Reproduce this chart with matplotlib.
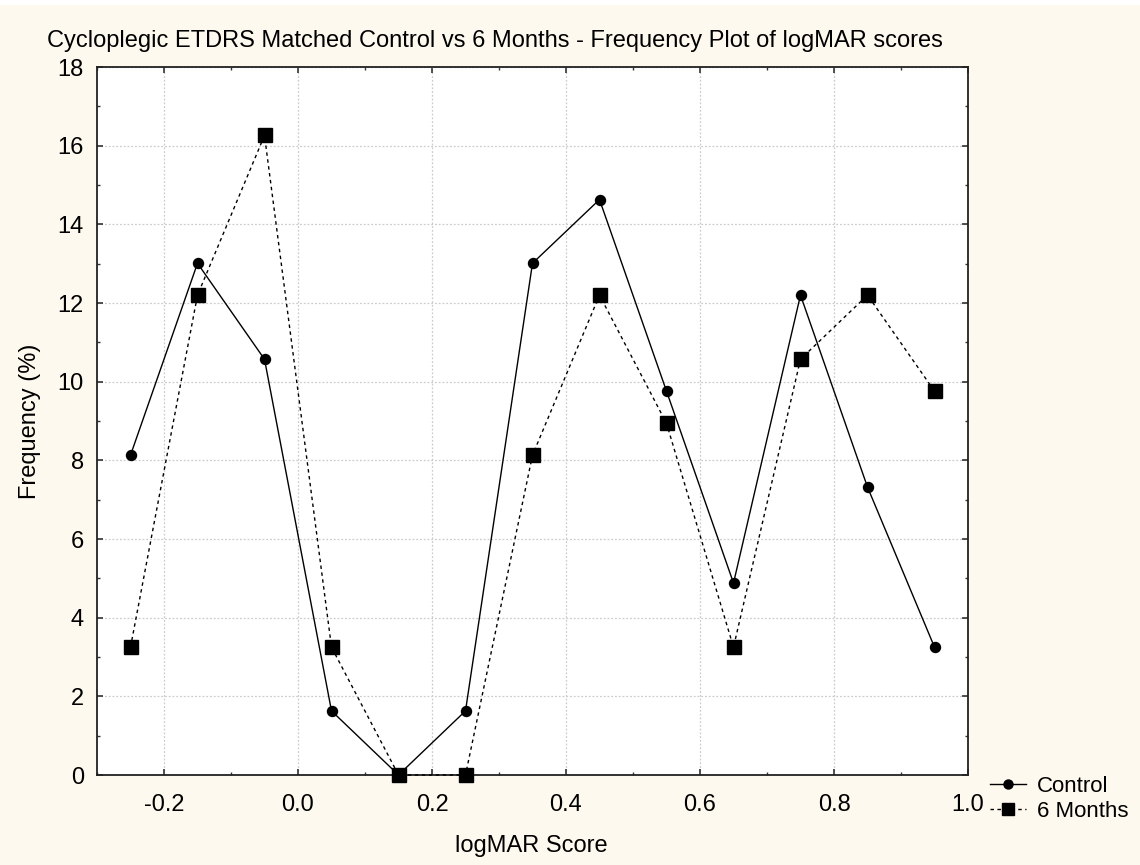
import matplotlib
matplotlib.use("Agg")
import matplotlib.pyplot as plt
from matplotlib.ticker import MultipleLocator
from matplotlib.patches import Rectangle

x_scores = [-0.25, -0.15, -0.05, 0.05, 0.15, 0.25, 0.35, 0.45, 0.55, 0.65, 0.75, 0.85, 0.95]
control = [8.13, 13.01, 10.57, 1.63, 0.0, 1.63, 13.01, 14.63, 9.76, 4.88, 12.20, 7.32, 3.25]
months6 = [3.25, 12.20, 16.26, 3.25, 0.0, 0.0, 8.13, 12.20, 8.94, 3.25, 10.57, 12.20, 9.76]
series_names = ["Control", "6 Months"]
title = "Cycloplegic ETDRS Matched Control vs 6 Months - Frequency Plot of logMAR scores"

plt.rcParams['font.family'] = ['Liberation Sans', 'DejaVu Sans']
FS = 17

W, H = 1140, 865
fig = plt.figure(figsize=(W / 100, H / 100), dpi=100, facecolor='#fef9ee')
fig.patches.append(Rectangle((0, 1 - 5 / H), 1, 5 / H, transform=fig.transFigure,
                             facecolor='white', edgecolor='none', zorder=-1))
ax = fig.add_axes([97 / W, 1 - 775 / H, (968 - 97) / W, (775 - 67) / H])
ax.set_facecolor('white')

l1, = ax.plot(x_scores, control, color='black', lw=1.0, marker='o', markersize=7.2,
              label=series_names[0], clip_on=False, zorder=3)
l2, = ax.plot(x_scores, months6, color='black', lw=1.0, ls=(0, (2.5, 2.5)), marker='s',
              markersize=9.4, label=series_names[1], clip_on=False, zorder=3)

ax.set_xlim(-0.3, 1.0)
ax.set_ylim(0, 18)
ax.xaxis.set_major_locator(MultipleLocator(0.2))
ax.xaxis.set_minor_locator(MultipleLocator(0.1))
ax.yaxis.set_major_locator(MultipleLocator(2))
ax.yaxis.set_minor_locator(MultipleLocator(1))
ax.xaxis.set_major_formatter(plt.FuncFormatter(lambda v, p: f"{v:.1f}"))
ax.tick_params(which='both', direction='in', top=True, right=True, labelsize=FS,
               color='#333333')
ax.tick_params(which='major', length=4, width=1.2)
ax.tick_params(axis='x', which='major', pad=14)
ax.tick_params(axis='y', which='major', pad=9.5)
ax.tick_params(which='minor', length=2.5, width=1.0)
ax.grid(True, which='major', color='#cccccc', ls=(0, (1.5, 1.5)), lw=0.9)
ax.set_axisbelow(True)
for s in ax.spines.values():
    s.set_linewidth(1.3)
    s.set_color('#222222')

fig.text(495 / W, 1 - 47 / H, title, fontsize=FS, ha='center', va='baseline')
fig.text(531 / W, 1 - 846 / H, "logMAR Score", fontsize=FS, ha='center', va='center')
fig.text(30 / W, 1 - 421 / H, "Frequency (%)", fontsize=FS, ha='center', va='center',
         rotation=90)

fig.legend(handles=[l1, l2], loc='center left', bbox_to_anchor=(990 / W, 1 - 799 / H),
           bbox_transform=fig.transFigure, frameon=False, fontsize=16,
           handlelength=1.6, handletextpad=0.5, labelspacing=0.18, borderpad=0,
           borderaxespad=0, markerscale=0.9)

fig.savefig("out.png", dpi=100, facecolor=fig.get_facecolor())
